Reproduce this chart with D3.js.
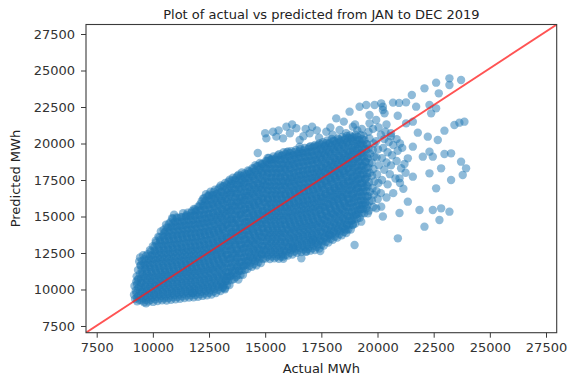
<!DOCTYPE html>
<html><head><meta charset="utf-8">
<script src="https://cdn.jsdelivr.net/npm/d3@7"></script>
<style>body{margin:0;background:#fff;} svg{display:block;} text{font-family:"DejaVu Sans",sans-serif;}</style>
</head><body><svg id="chart" width="577" height="379"></svg>
<script>
const titleText = "Plot of actual vs predicted from JAN to DEC 2019";
const xLabelText = "Actual MWh";
const yLabelText = "Predicted MWh";
const xTicks = [7500, 10000, 12500, 15000, 17500, 20000, 22500, 25000, 27500];
const yTicks = [7500, 10000, 12500, 15000, 17500, 20000, 22500, 25000, 27500];
const xDomain = [7024, 27976];
const yDomain = [7041, 28151];

// [actual MWh, predicted MWh] pairs
const denseCore = [
[9210,9350],[9160,9640],[9240,9930],[9180,10240],[9260,10540],
[9410,9280],[9350,9560],[9440,9870],[9380,10150],[9460,10460],[9360,10740],[9420,11060],[9340,11330],[9450,11650],[9390,11920],[9430,12200],
[9610,9120],[9550,9400],[9640,9710],[9580,10010],[9660,10280],[9560,10590],[9620,10880],[9540,11170],[9650,11480],[9590,11760],[9630,12070],[9570,12350],
[9810,9180],[9750,9470],[9840,9760],[9780,10060],[9860,10350],[9760,10650],[9820,10930],[9740,11240],[9850,11520],[9790,11830],[9830,12110],[9770,12420],[9870,12700],
[10010,9150],[9950,9440],[10040,9730],[9980,10030],[10060,10320],[9960,10610],[10020,10910],[9940,11200],[10050,11490],[9990,11790],[10030,12080],[9970,12370],[10070,12670],[10000,12960],
[10210,9210],[10150,9500],[10240,9800],[10180,10090],[10260,10390],[10160,10680],[10220,10980],[10140,11270],[10250,11570],[10190,11860],[10230,12160],[10170,12450],[10270,12750],[10200,13040],[10130,13340],[10245,13610],
[10410,9260],[10350,9560],[10440,9850],[10380,10150],[10460,10440],[10360,10740],[10420,11030],[10340,11330],[10450,11620],[10390,11920],[10430,12210],[10370,12510],[10470,12800],[10400,13100],[10330,13390],[10445,13690],[10355,13980],
[10610,9240],[10550,9530],[10640,9830],[10580,10120],[10660,10420],[10560,10710],[10620,11010],[10540,11300],[10650,11600],[10590,11890],[10630,12190],[10570,12480],[10670,12780],[10600,13070],[10530,13370],[10645,13660],[10555,13960],[10615,14250],[10585,14430],
[10810,9300],[10750,9590],[10840,9890],[10780,10180],[10860,10480],[10760,10770],[10820,11070],[10740,11360],[10850,11660],[10790,11950],[10830,12250],[10770,12540],[10870,12840],[10800,13130],[10730,13430],[10845,13720],[10755,14020],[10815,14310],[10785,14610],[10855,14880],
[11010,9330],[10950,9620],[11040,9920],[10980,10210],[11060,10510],[10960,10800],[11020,11100],[10940,11390],[11050,11690],[10990,11980],[11030,12280],[10970,12570],[11070,12870],[11000,13160],[10930,13460],[11045,13750],[10955,14050],[11015,14340],[10985,14640],[11055,14930],[10945,15120],
[11210,9360],[11150,9650],[11240,9950],[11180,10240],[11260,10540],[11160,10830],[11220,11130],[11140,11420],[11250,11720],[11190,12010],[11230,12310],[11170,12600],[11270,12900],[11200,13190],[11130,13490],[11245,13780],[11155,14080],[11215,14370],[11185,14670],[11255,14960],
[11410,9410],[11350,9700],[11440,10000],[11380,10290],[11460,10590],[11360,10880],[11420,11180],[11340,11470],[11450,11770],[11390,12060],[11430,12360],[11370,12650],[11470,12950],[11400,13240],[11330,13540],[11445,13830],[11355,14130],[11415,14420],[11385,14720],[11455,15010],[11345,15220],
[11610,9450],[11550,9740],[11640,10040],[11580,10330],[11660,10630],[11560,10920],[11620,11220],[11540,11510],[11650,11810],[11590,12100],[11630,12400],[11570,12690],[11670,12990],[11600,13280],[11530,13580],[11645,13870],[11555,14170],[11615,14460],[11585,14760],[11655,15050],[11545,15260],
[11810,9460],[11750,9760],[11840,10050],[11780,10350],[11860,10640],[11760,10940],[11820,11230],[11740,11530],[11850,11820],[11790,12120],[11830,12410],[11770,12710],[11870,13000],[11800,13300],[11730,13590],[11845,13890],[11755,14180],[11815,14480],[11785,14770],[11855,15070],[11745,15360],[11825,15520],
[12010,9500],[11950,9790],[12040,10090],[11980,10380],[12060,10680],[11960,10970],[12020,11270],[11940,11560],[12050,11860],[11990,12150],[12030,12450],[11970,12740],[12070,13040],[12000,13330],[11930,13630],[12045,13920],[11955,14220],[12015,14510],[11985,14810],[12055,15100],[11945,15400],[12025,15690],
[12210,9560],[12150,9850],[12240,10150],[12180,10440],[12260,10740],[12160,11030],[12220,11330],[12140,11620],[12250,11920],[12190,12210],[12230,12510],[12170,12800],[12270,13100],[12200,13390],[12130,13690],[12245,13980],[12155,14280],[12215,14570],[12185,14870],[12255,15160],[12145,15460],[12225,15750],[12175,16050],[12235,16220],
[12410,9600],[12350,9900],[12440,10190],[12380,10490],[12460,10780],[12360,11080],[12420,11370],[12340,11670],[12450,11960],[12390,12260],[12430,12550],[12370,12850],[12470,13140],[12400,13440],[12330,13730],[12445,14030],[12355,14320],[12415,14620],[12385,14910],[12455,15210],[12345,15500],[12425,15800],[12375,16090],[12435,16390],[12365,16520],
[12610,9660],[12550,9950],[12640,10250],[12580,10540],[12660,10840],[12560,11130],[12620,11430],[12540,11720],[12650,12020],[12590,12310],[12630,12610],[12570,12900],[12670,13200],[12600,13490],[12530,13790],[12645,14080],[12555,14380],[12615,14670],[12585,14970],[12655,15260],[12545,15560],[12625,15850],[12575,16150],[12635,16440],[12565,16700],
[12810,9760],[12750,10050],[12840,10350],[12780,10640],[12860,10940],[12760,11230],[12820,11530],[12740,11820],[12850,12120],[12790,12410],[12830,12710],[12770,13000],[12870,13300],[12800,13590],[12730,13890],[12845,14180],[12755,14480],[12815,14770],[12785,15070],[12855,15360],[12745,15660],[12825,15950],[12775,16250],[12835,16540],[12765,16840],
[13010,9900],[12950,10190],[13040,10490],[12980,10780],[13060,11080],[12960,11370],[13020,11670],[12940,11960],[13050,12260],[12990,12550],[13030,12850],[12970,13140],[13070,13440],[13000,13730],[12930,14030],[13045,14320],[12955,14620],[13015,14910],[12985,15210],[13055,15500],[12945,15800],[13025,16090],[12975,16390],[13035,16680],[12965,16980],[13020,17120],
[13210,10010],[13150,10300],[13240,10600],[13180,10890],[13260,11190],[13160,11480],[13220,11780],[13140,12070],[13250,12370],[13190,12660],[13230,12960],[13170,13250],[13270,13550],[13200,13840],[13130,14140],[13245,14430],[13155,14730],[13215,15020],[13185,15320],[13255,15610],[13145,15910],[13225,16200],[13175,16500],[13235,16790],[13165,17090],[13220,17300],
[13410,10300],[13350,10600],[13440,10890],[13380,11190],[13460,11480],[13360,11780],[13420,12070],[13340,12370],[13450,12660],[13390,12960],[13430,13250],[13370,13550],[13470,13840],[13400,14140],[13330,14430],[13445,14730],[13355,15020],[13415,15320],[13385,15610],[13455,15910],[13345,16200],[13425,16500],[13375,16790],[13435,17090],[13365,17380],[13420,17520],
[13610,10720],[13550,11010],[13640,11310],[13580,11600],[13660,11900],[13560,12190],[13620,12490],[13540,12780],[13650,13080],[13590,13370],[13630,13670],[13570,13960],[13670,14260],[13600,14550],[13530,14850],[13645,15140],[13555,15440],[13615,15730],[13585,16030],[13655,16320],[13545,16620],[13625,16910],[13575,17210],[13635,17500],[13565,17660],
[13810,10690],[13750,10980],[13840,11280],[13780,11570],[13860,11870],[13760,12160],[13820,12460],[13740,12750],[13850,13050],[13790,13340],[13830,13640],[13770,13930],[13870,14230],[13800,14520],[13730,14820],[13845,15110],[13755,15410],[13815,15700],[13785,16000],[13855,16290],[13745,16590],[13825,16880],[13775,17180],[13835,17470],[13765,17770],[13820,17860],
[14010,11010],[13950,11300],[14040,11600],[13980,11890],[14060,12190],[13960,12480],[14020,12780],[13940,13070],[14050,13370],[13990,13660],[14030,13960],[13970,14250],[14070,14550],[14000,14840],[13930,15140],[14045,15430],[13955,15730],[14015,16020],[13985,16320],[14055,16610],[13945,16910],[14025,17200],[13975,17500],[14035,17790],[13965,18010],
[14210,11400],[14150,11700],[14240,11990],[14180,12290],[14260,12580],[14160,12880],[14220,13170],[14140,13470],[14250,13760],[14190,14060],[14230,14350],[14170,14650],[14270,14940],[14200,15240],[14130,15530],[14245,15830],[14155,16120],[14215,16420],[14185,16710],[14255,17010],[14145,17300],[14225,17600],[14175,17890],[14235,18160],
[14410,11560],[14350,11850],[14440,12150],[14380,12440],[14460,12740],[14360,13030],[14420,13330],[14340,13620],[14450,13920],[14390,14210],[14430,14510],[14370,14800],[14470,15100],[14400,15390],[14330,15690],[14445,15980],[14355,16280],[14415,16570],[14385,16870],[14455,17160],[14345,17460],[14425,17750],[14375,18050],[14435,18310],
[14610,11650],[14550,11950],[14640,12240],[14580,12540],[14660,12830],[14560,13130],[14620,13420],[14540,13720],[14650,14010],[14590,14310],[14630,14600],[14570,14900],[14670,15190],[14600,15490],[14530,15780],[14645,16080],[14555,16370],[14615,16670],[14585,16960],[14655,17260],[14545,17550],[14625,17850],[14575,18140],[14635,18440],[14565,18520],
[14810,11810],[14750,12100],[14840,12400],[14780,12690],[14860,12990],[14760,13280],[14820,13580],[14740,13870],[14850,14170],[14790,14460],[14830,14760],[14770,15050],[14870,15350],[14800,15640],[14730,15940],[14845,16230],[14755,16530],[14815,16820],[14785,17120],[14855,17410],[14745,17710],[14825,18000],[14775,18300],[14835,18590],[14765,18660],
[15010,12120],[14950,12410],[15040,12710],[14980,13000],[15060,13300],[14960,13590],[15020,13890],[14940,14180],[15050,14480],[14990,14770],[15030,15070],[14970,15360],[15070,15660],[15000,15950],[14930,16250],[15045,16540],[14955,16840],[15015,17130],[14985,17430],[15055,17720],[14945,18020],[15025,18310],[14975,18610],[15035,18800],
[15210,12090],[15150,12380],[15240,12680],[15180,12970],[15260,13270],[15160,13560],[15220,13860],[15140,14150],[15250,14450],[15190,14740],[15230,15040],[15170,15330],[15270,15630],[15200,15920],[15130,16220],[15245,16510],[15155,16810],[15215,17100],[15185,17400],[15255,17690],[15145,17990],[15225,18280],[15175,18580],[15235,18870],[15165,19010],
[15410,12130],[15350,12420],[15440,12720],[15380,13010],[15460,13310],[15360,13600],[15420,13900],[15340,14190],[15450,14490],[15390,14780],[15430,15080],[15370,15370],[15470,15670],[15400,15960],[15330,16260],[15445,16550],[15355,16850],[15415,17140],[15385,17440],[15455,17730],[15345,18030],[15425,18320],[15375,18620],[15435,18910],[15365,19110],
[15610,12100],[15550,12400],[15640,12690],[15580,12990],[15660,13280],[15560,13580],[15620,13870],[15540,14170],[15650,14460],[15590,14760],[15630,15050],[15570,15350],[15670,15640],[15600,15940],[15530,16230],[15645,16530],[15555,16820],[15615,17120],[15585,17410],[15655,17710],[15545,18000],[15625,18300],[15575,18590],[15635,18890],[15565,19180],[15620,19260],
[15810,12110],[15750,12410],[15840,12700],[15780,13000],[15860,13290],[15760,13590],[15820,13880],[15740,14180],[15850,14470],[15790,14770],[15830,15060],[15770,15360],[15870,15650],[15800,15950],[15730,16240],[15845,16540],[15755,16830],[15815,17130],[15785,17420],[15855,17720],[15745,18010],[15825,18310],[15775,18600],[15835,18900],[15765,19190],[15820,19400],
[16010,12320],[15950,12610],[16040,12910],[15980,13200],[16060,13500],[15960,13790],[16020,14090],[15940,14380],[16050,14680],[15990,14970],[16030,15270],[15970,15560],[16070,15860],[16000,16150],[15930,16450],[16045,16740],[15955,17040],[16015,17330],[15985,17630],[16055,17920],[15945,18220],[16025,18510],[15975,18810],[16035,19100],[15965,19400],[16020,19460],
[16210,12400],[16150,12700],[16240,12990],[16180,13290],[16260,13580],[16160,13880],[16220,14170],[16140,14470],[16250,14760],[16190,15060],[16230,15350],[16170,15650],[16270,15940],[16200,16240],[16130,16530],[16245,16830],[16155,17120],[16215,17420],[16185,17710],[16255,18010],[16145,18300],[16225,18600],[16175,18890],[16235,19190],[16165,19480],
[16410,12510],[16350,12800],[16440,13100],[16380,13390],[16460,13690],[16360,13980],[16420,14280],[16340,14570],[16450,14870],[16390,15160],[16430,15460],[16370,15750],[16470,16050],[16400,16340],[16330,16640],[16445,16930],[16355,17230],[16415,17520],[16385,17820],[16455,18110],[16345,18410],[16425,18700],[16375,19000],[16435,19290],[16365,19560],
[16610,12560],[16550,12850],[16640,13150],[16580,13440],[16660,13740],[16560,14030],[16620,14330],[16540,14620],[16650,14920],[16590,15210],[16630,15510],[16570,15800],[16670,16100],[16600,16390],[16530,16690],[16645,16980],[16555,17280],[16615,17570],[16585,17870],[16655,18160],[16545,18460],[16625,18750],[16575,19050],[16635,19340],[16565,19610],
[16810,12600],[16750,12900],[16840,13190],[16780,13490],[16860,13780],[16760,14080],[16820,14370],[16740,14670],[16850,14960],[16790,15260],[16830,15550],[16770,15850],[16870,16140],[16800,16440],[16730,16730],[16845,17030],[16755,17320],[16815,17620],[16785,17910],[16855,18210],[16745,18500],[16825,18800],[16775,19090],[16835,19390],[16765,19690],
[17010,12660],[16950,12950],[17040,13250],[16980,13540],[17060,13840],[16960,14130],[17020,14430],[16940,14720],[17050,15020],[16990,15310],[17030,15610],[16970,15900],[17070,16200],[17000,16490],[16930,16790],[17045,17080],[16955,17380],[17015,17670],[16985,17970],[17055,18260],[16945,18560],[17025,18850],[16975,19150],[17035,19440],[16965,19740],[17020,19810],
[17210,12710],[17150,13000],[17240,13300],[17180,13590],[17260,13890],[17160,14180],[17220,14480],[17140,14770],[17250,15070],[17190,15360],[17230,15660],[17170,15950],[17270,16250],[17200,16540],[17130,16840],[17245,17130],[17155,17430],[17215,17720],[17185,18020],[17255,18310],[17145,18610],[17225,18900],[17175,19200],[17235,19490],[17165,19790],[17220,19900],
[17410,12810],[17350,13100],[17440,13400],[17380,13690],[17460,13990],[17360,14280],[17420,14580],[17340,14870],[17450,15170],[17390,15460],[17430,15760],[17370,16050],[17470,16350],[17400,16640],[17330,16940],[17445,17230],[17355,17530],[17415,17820],[17385,18120],[17455,18410],[17345,18710],[17425,19000],[17375,19300],[17435,19590],[17365,19890],[17420,20010],
[17610,13010],[17550,13300],[17640,13600],[17580,13890],[17660,14190],[17560,14480],[17620,14780],[17540,15070],[17650,15370],[17590,15660],[17630,15960],[17570,16250],[17670,16550],[17600,16840],[17530,17140],[17645,17430],[17555,17730],[17615,18020],[17585,18320],[17655,18610],[17545,18910],[17625,19200],[17575,19500],[17635,19790],[17565,20090],
[17810,13210],[17750,13500],[17840,13800],[17780,14090],[17860,14390],[17760,14680],[17820,14980],[17740,15270],[17850,15570],[17790,15860],[17830,16160],[17770,16450],[17870,16750],[17800,17040],[17730,17340],[17845,17630],[17755,17930],[17815,18220],[17785,18520],[17855,18810],[17745,19110],[17825,19400],[17775,19700],[17835,19990],[17765,20210],
[18010,13400],[17950,13700],[18040,13990],[17980,14290],[18060,14580],[17960,14880],[18020,15170],[17940,15470],[18050,15760],[17990,16060],[18030,16350],[17970,16650],[18070,16940],[18000,17240],[17930,17530],[18045,17830],[17955,18120],[18015,18420],[17985,18710],[18055,19010],[17945,19300],[18025,19600],[17975,19890],[18035,20190],[17965,20310],
[18210,13560],[18150,13850],[18240,14150],[18180,14440],[18260,14740],[18160,15030],[18220,15330],[18140,15620],[18250,15920],[18190,16210],[18230,16510],[18170,16800],[18270,17100],[18200,17390],[18130,17690],[18245,17980],[18155,18280],[18215,18570],[18185,18870],[18255,19160],[18145,19460],[18225,19750],[18175,20050],[18235,20340],
[18410,13710],[18350,14000],[18440,14300],[18380,14590],[18460,14890],[18360,15180],[18420,15480],[18340,15770],[18450,16070],[18390,16360],[18430,16660],[18370,16950],[18470,17250],[18400,17540],[18330,17840],[18445,18130],[18355,18430],[18415,18720],[18385,19020],[18455,19310],[18345,19610],[18425,19900],[18375,20200],[18435,20450],
[18610,13860],[18550,14150],[18640,14450],[18580,14740],[18660,15040],[18560,15330],[18620,15630],[18540,15920],[18650,16220],[18590,16510],[18630,16810],[18570,17100],[18670,17400],[18600,17690],[18530,17990],[18645,18280],[18555,18580],[18615,18870],[18585,19170],[18655,19460],[18545,19760],[18625,20050],[18575,20350],[18635,20510],
[18810,14110],[18750,14400],[18840,14700],[18780,14990],[18860,15290],[18760,15580],[18820,15880],[18740,16170],[18850,16470],[18790,16760],[18830,17060],[18770,17350],[18870,17650],[18800,17940],[18730,18240],[18845,18530],[18755,18830],[18815,19120],[18785,19420],[18855,19710],[18745,20010],[18825,20300],[18775,20560],
[19010,14520],[18950,14810],[19040,15110],[18980,15400],[19060,15700],[18960,15990],[19020,16290],[18940,16580],[19050,16880],[18990,17170],[19030,17470],[18970,17760],[19070,18060],[19000,18350],[18930,18650],[19045,18940],[18955,19240],[19015,19530],[18985,19830],[19055,20120],[18945,20420],[19025,20610],
[19210,14910],[19150,15200],[19240,15500],[19180,15790],[19260,16090],[19160,16380],[19220,16680],[19140,16970],[19250,17270],[19190,17560],[19230,17860],[19170,18150],[19270,18450],[19200,18740],[19130,19040],[19245,19330],[19155,19630],[19215,19920],[19185,20220],[19255,20580],
[19410,15220],[19350,15510],[19440,15810],[19380,16100],[19460,16400],[19360,16690],[19420,16990],[19340,17280],[19450,17580],[19390,17870],[19430,18170],[19370,18460],[19470,18760],[19400,19050],[19330,19350],[19445,19640],[19355,19940],[19415,20230],[19385,20510],
[19610,15400],[19550,15750],[19640,16050],[19580,16400],[19660,16700],[19560,17050],[19620,17350],[19540,17700],[19650,18000],[19590,18350],[19630,18650],[19570,19000],[19670,19300],[19600,19650],[19530,19950],[19645,20350],
[19810,15650],[19750,16100],[19840,16500],[19780,16950],[19860,17400],[19760,17800],[19820,18250],[19740,18700],[19850,19100],[19790,19550],[19830,20000],
[20010,16200],[19950,16750],[20040,17300],[19980,17900],[20060,18500],[19960,19050],[20020,19600],[19940,20150]
];

const denseCoreInner = [
[9300,9450],[9270,9750],[9330,10050],[9290,10350],[9320,10650],[9280,10900],
[9510,9250],[9470,9550],[9530,9850],[9490,10150],[9520,10450],[9480,10750],[9540,11050],[9500,11350],[9460,11650],[9525,11950],
[9700,9300],[9660,9600],[9730,9900],[9690,10200],[9720,10500],[9680,10800],[9740,11100],[9700,11400],[9670,11700],[9725,12000],[9690,12300],
[9900,9300],[9860,9600],[9930,9900],[9890,10200],[9920,10500],[9880,10800],[9940,11100],[9900,11400],[9870,11700],[9925,12000],[9890,12300],[9910,12600],
[10100,9330],[10060,9630],[10130,9930],[10090,10230],[10120,10530],[10080,10830],[10140,11130],[10100,11430],[10070,11730],[10125,12030],[10090,12330],[10110,12630],[10075,12930],[10130,13200],
[10300,9380],[10260,9680],[10330,9980],[10290,10280],[10320,10580],[10280,10880],[10340,11180],[10300,11480],[10270,11780],[10325,12080],[10290,12380],[10310,12680],[10275,12980],[10330,13280],[10295,13580],
[10500,9390],[10460,9690],[10530,9990],[10490,10290],[10520,10590],[10480,10890],[10540,11190],[10500,11490],[10470,11790],[10525,12090],[10490,12390],[10510,12690],[10475,12990],[10530,13290],[10495,13590],[10515,13890],[10480,14100],
[10700,9420],[10660,9720],[10730,10020],[10690,10320],[10720,10620],[10680,10920],[10740,11220],[10700,11520],[10670,11820],[10725,12120],[10690,12420],[10710,12720],[10675,13020],[10730,13320],[10695,13620],[10715,13920],[10680,14220],[10720,14500],
[10900,9460],[10860,9760],[10930,10060],[10890,10360],[10920,10660],[10880,10960],[10940,11260],[10900,11560],[10870,11860],[10925,12160],[10890,12460],[10910,12760],[10875,13060],[10930,13360],[10895,13660],[10915,13960],[10880,14260],[10920,14560],[10890,14850],
[11100,9490],[11060,9790],[11130,10090],[11090,10390],[11120,10690],[11080,10990],[11140,11290],[11100,11590],[11070,11890],[11125,12190],[11090,12490],[11110,12790],[11075,13090],[11130,13390],[11095,13690],[11115,13990],[11080,14290],[11120,14590],[11090,14880],
[11300,9530],[11260,9830],[11330,10130],[11290,10430],[11320,10730],[11280,11030],[11340,11330],[11300,11630],[11270,11930],[11325,12230],[11290,12530],[11310,12830],[11275,13130],[11330,13430],[11295,13730],[11315,14030],[11280,14330],[11320,14630],[11290,14930],
[11500,9580],[11460,9880],[11530,10180],[11490,10480],[11520,10780],[11480,11080],[11540,11380],[11500,11680],[11470,11980],[11525,12280],[11490,12580],[11510,12880],[11475,13180],[11530,13480],[11495,13780],[11515,14080],[11480,14380],[11520,14680],[11490,14980],[11510,15100],
[11700,9600],[11660,9900],[11730,10200],[11690,10500],[11720,10800],[11680,11100],[11740,11400],[11700,11700],[11670,12000],[11725,12300],[11690,12600],[11710,12900],[11675,13200],[11730,13500],[11695,13800],[11715,14100],[11680,14400],[11720,14700],[11690,15000],[11710,15250],
[11900,9630],[11860,9930],[11930,10230],[11890,10530],[11920,10830],[11880,11130],[11940,11430],[11900,11730],[11870,12030],[11925,12330],[11890,12630],[11910,12930],[11875,13230],[11930,13530],[11895,13830],[11915,14130],[11880,14430],[11920,14730],[11890,15030],[11910,15330],[11880,15480],
[12100,9680],[12060,9980],[12130,10280],[12090,10580],[12120,10880],[12080,11180],[12140,11480],[12100,11780],[12070,12080],[12125,12380],[12090,12680],[12110,12980],[12075,13280],[12130,13580],[12095,13880],[12115,14180],[12080,14480],[12120,14780],[12090,15080],[12110,15380],[12080,15680],[12120,15850],
[12300,9730],[12260,10030],[12330,10330],[12290,10630],[12320,10930],[12280,11230],[12340,11530],[12300,11830],[12270,12130],[12325,12430],[12290,12730],[12310,13030],[12275,13330],[12330,13630],[12295,13930],[12315,14230],[12280,14530],[12320,14830],[12290,15130],[12310,15430],[12280,15730],[12320,16030],[12290,16250],
[12500,9780],[12460,10080],[12530,10380],[12490,10680],[12520,10980],[12480,11280],[12540,11580],[12500,11880],[12470,12180],[12525,12480],[12490,12780],[12510,13080],[12475,13380],[12530,13680],[12495,13980],[12515,14280],[12480,14580],[12520,14880],[12490,15180],[12510,15480],[12480,15780],[12520,16080],[12490,16380],[12510,16500],
[12700,9860],[12660,10160],[12730,10460],[12690,10760],[12720,11060],[12680,11360],[12740,11660],[12700,11960],[12670,12260],[12725,12560],[12690,12860],[12710,13160],[12675,13460],[12730,13760],[12695,14060],[12715,14360],[12680,14660],[12720,14960],[12690,15260],[12710,15560],[12680,15860],[12720,16160],[12690,16460],[12710,16680],
[12900,9980],[12860,10280],[12930,10580],[12890,10880],[12920,11180],[12880,11480],[12940,11780],[12900,12080],[12870,12380],[12925,12680],[12890,12980],[12910,13280],[12875,13580],[12930,13880],[12895,14180],[12915,14480],[12880,14780],[12920,15080],[12890,15380],[12910,15680],[12880,15980],[12920,16280],[12890,16580],[12910,16850],
[13100,10100],[13060,10400],[13130,10700],[13090,11000],[13120,11300],[13080,11600],[13140,11900],[13100,12200],[13070,12500],[13125,12800],[13090,13100],[13110,13400],[13075,13700],[13130,14000],[13095,14300],[13115,14600],[13080,14900],[13120,15200],[13090,15500],[13110,15800],[13080,16100],[13120,16400],[13090,16700],[13110,17050],
[13300,10300],[13260,10600],[13330,10900],[13290,11200],[13320,11500],[13280,11800],[13340,12100],[13300,12400],[13270,12700],[13325,13000],[13290,13300],[13310,13600],[13275,13900],[13330,14200],[13295,14500],[13315,14800],[13280,15100],[13320,15400],[13290,15700],[13310,16000],[13280,16300],[13320,16600],[13290,16900],[13310,17200],
[13500,10650],[13460,10950],[13530,11250],[13490,11550],[13520,11850],[13480,12150],[13540,12450],[13500,12750],[13470,13050],[13525,13350],[13490,13650],[13510,13950],[13475,14250],[13530,14550],[13495,14850],[13515,15150],[13480,15450],[13520,15750],[13490,16050],[13510,16350],[13480,16650],[13520,16950],[13490,17250],[13510,17450],
[13700,10850],[13660,11150],[13730,11450],[13690,11750],[13720,12050],[13680,12350],[13740,12650],[13700,12950],[13670,13250],[13725,13550],[13690,13850],[13710,14150],[13675,14450],[13730,14750],[13695,15050],[13715,15350],[13680,15650],[13720,15950],[13690,16250],[13710,16550],[13680,16850],[13720,17150],[13690,17450],[13710,17650],
[13900,11000],[13860,11300],[13930,11600],[13890,11900],[13920,12200],[13880,12500],[13940,12800],[13900,13100],[13870,13400],[13925,13700],[13890,14000],[13910,14300],[13875,14600],[13930,14900],[13895,15200],[13915,15500],[13880,15800],[13920,16100],[13890,16400],[13910,16700],[13880,17000],[13920,17300],[13890,17600],[13910,17800],
[14100,11350],[14060,11650],[14130,11950],[14090,12250],[14120,12550],[14080,12850],[14140,13150],[14100,13450],[14070,13750],[14125,14050],[14090,14350],[14110,14650],[14075,14950],[14130,15250],[14095,15550],[14115,15850],[14080,16150],[14120,16450],[14090,16750],[14110,17050],[14080,17350],[14120,17650],[14090,17950],
[14300,11630],[14260,11930],[14330,12230],[14290,12530],[14320,12830],[14280,13130],[14340,13430],[14300,13730],[14270,14030],[14325,14330],[14290,14630],[14310,14930],[14275,15230],[14330,15530],[14295,15830],[14315,16130],[14280,16430],[14320,16730],[14290,17030],[14310,17330],[14280,17630],[14320,17930],[14290,18100],
[14500,11750],[14460,12050],[14530,12350],[14490,12650],[14520,12950],[14480,13250],[14540,13550],[14500,13850],[14470,14150],[14525,14450],[14490,14750],[14510,15050],[14475,15350],[14530,15650],[14495,15950],[14515,16250],[14480,16550],[14520,16850],[14490,17150],[14510,17450],[14480,17750],[14520,18050],[14490,18280],
[14700,11880],[14660,12180],[14730,12480],[14690,12780],[14720,13080],[14680,13380],[14740,13680],[14700,13980],[14670,14280],[14725,14580],[14690,14880],[14710,15180],[14675,15480],[14730,15780],[14695,16080],[14715,16380],[14680,16680],[14720,16980],[14690,17280],[14710,17580],[14680,17880],[14720,18180],[14690,18450],
[14900,12110],[14860,12410],[14930,12710],[14890,13010],[14920,13310],[14880,13610],[14940,13910],[14900,14210],[14870,14510],[14925,14810],[14890,15110],[14910,15410],[14875,15710],[14930,16010],[14895,16310],[14915,16610],[14880,16910],[14920,17210],[14890,17510],[14910,17810],[14880,18110],[14920,18410],[14890,18620],
[15100,12250],[15060,12550],[15130,12850],[15090,13150],[15120,13450],[15080,13750],[15140,14050],[15100,14350],[15070,14650],[15125,14950],[15090,15250],[15110,15550],[15075,15850],[15130,16150],[15095,16450],[15115,16750],[15080,17050],[15120,17350],[15090,17650],[15110,17950],[15080,18250],[15120,18550],[15090,18780],
[15300,12260],[15260,12560],[15330,12860],[15290,13160],[15320,13460],[15280,13760],[15340,14060],[15300,14360],[15270,14660],[15325,14960],[15290,15260],[15310,15560],[15275,15860],[15330,16160],[15295,16460],[15315,16760],[15280,17060],[15320,17360],[15290,17660],[15310,17960],[15280,18260],[15320,18560],[15290,18860],[15310,18950],
[15500,12260],[15460,12560],[15530,12860],[15490,13160],[15520,13460],[15480,13760],[15540,14060],[15500,14360],[15470,14660],[15525,14960],[15490,15260],[15510,15560],[15475,15860],[15530,16160],[15495,16460],[15515,16760],[15480,17060],[15520,17360],[15490,17660],[15510,17960],[15480,18260],[15520,18560],[15490,18860],[15510,19050],
[15700,12250],[15660,12550],[15730,12850],[15690,13150],[15720,13450],[15680,13750],[15740,14050],[15700,14350],[15670,14650],[15725,14950],[15690,15250],[15710,15550],[15675,15850],[15730,16150],[15695,16450],[15715,16750],[15680,17050],[15720,17350],[15690,17650],[15710,17950],[15680,18250],[15720,18550],[15690,18850],[15710,19150],
[15900,12360],[15860,12660],[15930,12960],[15890,13260],[15920,13560],[15880,13860],[15940,14160],[15900,14460],[15870,14760],[15925,15060],[15890,15360],[15910,15660],[15875,15960],[15930,16260],[15895,16560],[15915,16860],[15880,17160],[15920,17460],[15890,17760],[15910,18060],[15880,18360],[15920,18660],[15890,18960],[15910,19260],
[16100,12510],[16060,12810],[16130,13110],[16090,13410],[16120,13710],[16080,14010],[16140,14310],[16100,14610],[16070,14910],[16125,15210],[16090,15510],[16110,15810],[16075,16110],[16130,16410],[16095,16710],[16115,17010],[16080,17310],[16120,17610],[16090,17910],[16110,18210],[16080,18510],[16120,18810],[16090,19110],[16110,19330],
[16300,12600],[16260,12900],[16330,13200],[16290,13500],[16320,13800],[16280,14100],[16340,14400],[16300,14700],[16270,15000],[16325,15300],[16290,15600],[16310,15900],[16275,16200],[16330,16500],[16295,16800],[16315,17100],[16280,17400],[16320,17700],[16290,18000],[16310,18300],[16280,18600],[16320,18900],[16290,19200],[16310,19400],
[16500,12680],[16460,12980],[16530,13280],[16490,13580],[16520,13880],[16480,14180],[16540,14480],[16500,14780],[16470,15080],[16525,15380],[16490,15680],[16510,15980],[16475,16280],[16530,16580],[16495,16880],[16515,17180],[16480,17480],[16520,17780],[16490,18080],[16510,18380],[16480,18680],[16520,18980],[16490,19280],[16510,19450],
[16700,12730],[16660,13030],[16730,13330],[16690,13630],[16720,13930],[16680,14230],[16740,14530],[16700,14830],[16670,15130],[16725,15430],[16690,15730],[16710,16030],[16675,16330],[16730,16630],[16695,16930],[16715,17230],[16680,17530],[16720,17830],[16690,18130],[16710,18430],[16680,18730],[16720,19030],[16690,19330],[16710,19520],
[16900,12780],[16860,13080],[16930,13380],[16890,13680],[16920,13980],[16880,14280],[16940,14580],[16900,14880],[16870,15180],[16925,15480],[16890,15780],[16910,16080],[16875,16380],[16930,16680],[16895,16980],[16915,17280],[16880,17580],[16920,17880],[16890,18180],[16910,18480],[16880,18780],[16920,19080],[16890,19380],[16910,19620],
[17100,12830],[17060,13130],[17130,13430],[17090,13730],[17120,14030],[17080,14330],[17140,14630],[17100,14930],[17070,15230],[17125,15530],[17090,15830],[17110,16130],[17075,16430],[17130,16730],[17095,17030],[17115,17330],[17080,17630],[17120,17930],[17090,18230],[17110,18530],[17080,18830],[17120,19130],[17090,19430],[17110,19720],
[17300,12910],[17260,13210],[17330,13510],[17290,13810],[17320,14110],[17280,14410],[17340,14710],[17300,15010],[17270,15310],[17325,15610],[17290,15910],[17310,16210],[17275,16510],[17330,16810],[17295,17110],[17315,17410],[17280,17710],[17320,18010],[17290,18310],[17310,18610],[17280,18910],[17320,19210],[17290,19510],[17310,19810],
[17500,13060],[17460,13360],[17530,13660],[17490,13960],[17520,14260],[17480,14560],[17540,14860],[17500,15160],[17470,15460],[17525,15760],[17490,16060],[17510,16360],[17475,16660],[17530,16960],[17495,17260],[17515,17560],[17480,17860],[17520,18160],[17490,18460],[17510,18760],[17480,19060],[17520,19360],[17490,19660],[17510,19920],
[17700,13260],[17660,13560],[17730,13860],[17690,14160],[17720,14460],[17680,14760],[17740,15060],[17700,15360],[17670,15660],[17725,15960],[17690,16260],[17710,16560],[17675,16860],[17730,17160],[17695,17460],[17715,17760],[17680,18060],[17720,18360],[17690,18660],[17710,18960],[17680,19260],[17720,19560],[17690,19860],[17710,20020],
[17900,13450],[17860,13750],[17930,14050],[17890,14350],[17920,14650],[17880,14950],[17940,15250],[17900,15550],[17870,15850],[17925,16150],[17890,16450],[17910,16750],[17875,17050],[17930,17350],[17895,17650],[17915,17950],[17880,18250],[17920,18550],[17890,18850],[17910,19150],[17880,19450],[17920,19750],[17890,20050],
[18100,13630],[18060,13930],[18130,14230],[18090,14530],[18120,14830],[18080,15130],[18140,15430],[18100,15730],[18070,16030],[18125,16330],[18090,16630],[18110,16930],[18075,17230],[18130,17530],[18095,17830],[18115,18130],[18080,18430],[18120,18730],[18090,19030],[18110,19330],[18080,19630],[18120,19930],[18090,20180],
[18300,13780],[18260,14080],[18330,14380],[18290,14680],[18320,14980],[18280,15280],[18340,15580],[18300,15880],[18270,16180],[18325,16480],[18290,16780],[18310,17080],[18275,17380],[18330,17680],[18295,17980],[18315,18280],[18280,18580],[18320,18880],[18290,19180],[18310,19480],[18280,19780],[18320,20080],[18290,20280],
[18500,13930],[18460,14230],[18530,14530],[18490,14830],[18520,15130],[18480,15430],[18540,15730],[18500,16030],[18470,16330],[18525,16630],[18490,16930],[18510,17230],[18475,17530],[18530,17830],[18495,18130],[18515,18430],[18480,18730],[18520,19030],[18490,19330],[18510,19630],[18480,19930],[18520,20230],
[18700,14130],[18660,14430],[18730,14730],[18690,15030],[18720,15330],[18680,15630],[18740,15930],[18700,16230],[18670,16530],[18725,16830],[18690,17130],[18710,17430],[18675,17730],[18730,18030],[18695,18330],[18715,18630],[18680,18930],[18720,19230],[18690,19530],[18710,19830],[18680,20130],[18720,20380],
[18900,14460],[18860,14760],[18930,15060],[18890,15360],[18920,15660],[18880,15960],[18940,16260],[18900,16560],[18870,16860],[18925,17160],[18890,17460],[18910,17760],[18875,18060],[18930,18360],[18895,18660],[18915,18960],[18880,19260],[18920,19560],[18890,19860],[18910,20160],[18880,20430],
[19100,14860],[19060,15160],[19130,15460],[19090,15760],[19120,16060],[19080,16360],[19140,16660],[19100,16960],[19070,17260],[19125,17560],[19090,17860],[19110,18160],[19075,18460],[19130,18760],[19095,19060],[19115,19360],[19080,19660],[19120,19960],[19090,20260],[19110,20450],
[19300,15210],[19260,15510],[19330,15810],[19290,16110],[19320,16410],[19280,16710],[19340,17010],[19300,17310],[19270,17610],[19325,17910],[19290,18210],[19310,18510],[19275,18810],[19330,19110],[19295,19410],[19315,19710],[19280,20010],[19320,20300],
[19500,15550],[19460,15950],[19530,16350],[19490,16750],[19520,17150],[19480,17550],[19540,17950],[19500,18350],[19470,18750],[19525,19150],[19490,19550],[19510,19950]
];

const outerPoints = [
[14670,19350],[15110,19010],[15053,20350],[15497,20470],[15350,20810],[15795,20354],[15943,21153],[16386,21040],[16535,20240],[16534,19783],
[16980,20696],[17090,21150],[17720,20810],[18163,21723],[18312,20924],[18757,22180],[18904,21153],[19201,22522],[19497,22637],[19645,21952],
[19645,21381],[19868,22637],[19941,21609],[20238,22522],[20312,22066],[20690,22800],[20960,22780],[21270,22820],[21274,21381],[16100,20700],
[16700,20500],[17400,20400],[17900,21100],[18600,20700],[19000,21300],[19300,21000],[19800,21000],[20400,21300],[20600,20500],[20900,21900],
[15000,20700],[15600,20900],[16200,21300],[16800,21000],[17300,20900],[18000,20600],[18500,21500],[19100,20900],[19600,20800],[20050,21100],
[22609,24167],[23201,24463],[23719,24349],[23201,24007],[22090,23778],[22727,23436],[21528,23322],[20165,22751],[21720,22523],[22313,22637],
[22609,22409],[22387,22066],[20239,22295],[21572,21496],[22979,20879],[23423,21267],[23645,21427],[23868,21496],[21794,20742],[22238,20468],
[22683,20240],[21572,19783],[21350,18984],[22016,19098],[22313,19441],[22461,19098],[22979,19281],[23275,19327],[23719,18756],[23942,18299],
[22831,18299],[22313,17957],[23793,17843],[21572,17729],[20979,17614],[23275,17500],[22609,16929],[21350,16016],[20979,15240],[21868,15446],
[22461,15446],[22831,15560],[23201,15331],[22757,14761],[22090,14304],[20906,13505],[20165,15674],[20239,15000],
[20150,20600],[20300,20300],[20500,20100],[20700,19900],[20250,19700],[20450,19400],[20650,19200],[20900,19500],[21100,19700],[20200,19000],
[20400,18700],[20600,18500],[20850,18800],[21050,18300],[20300,18200],[20550,17900],[20800,17600],[21000,17300],[20200,17500],[20450,17200],
[21250,18000],[20150,16600],[20400,16300],[20700,16600],[21200,18600],[21150,16900],[20350,20800],[20600,20700],[20850,20300],[21000,20000],
[15795,12249],[16609,12135],[16832,12591],[17453,12637],[17868,13733],[17128,13390],[18979,13048],[18905,14418],[19275,14646],[19571,15217],
[19941,15559],[16239,12820],[18609,14075],[13202,10080],[11780,9760],[13113,10170],[13290,10790],[9300,9200],[9700,9050]
];

const samples = denseCore.concat(denseCoreInner, outerPoints);
const actual = samples.map(d => d[0]);
const predicted = samples.map(d => d[1]);

const W = 577, H = 379;
const margin = {left: 86, top: 24.5, right: 20.3, bottom: 46.3};
const x = d3.scaleLinear().domain(xDomain).range([margin.left, W - margin.right]);
const y = d3.scaleLinear().domain(yDomain).range([H - margin.bottom, margin.top]);

const svg = d3.select("#chart");
svg.append("defs").append("clipPath").attr("id", "plotClip")
  .append("rect").attr("x", x.range()[0]).attr("y", y.range()[1])
  .attr("width", x.range()[1] - x.range()[0]).attr("height", y.range()[0] - y.range()[1]);

const plot = svg.append("g").attr("clip-path", "url(#plotClip)");
plot.append("g").selectAll("circle").data(actual).join("circle")
  .attr("cx", (d) => x(d))
  .attr("cy", (d, i) => y(predicted[i]))
  .attr("r", 4.2)
  .attr("fill", "#1f77b4")
  .attr("fill-opacity", 0.5);

plot.append("line")
  .attr("x1", x(xDomain[0])).attr("y1", y(yDomain[0]))
  .attr("x2", x(xDomain[1])).attr("y2", y(yDomain[1]))
  .attr("stroke", "#ff1a1a").attr("stroke-opacity", 0.75).attr("stroke-width", 1.8);

const axisColor = "#3a3a3a";
const xAxis = svg.append("g").attr("transform", `translate(0,${H - margin.bottom})`)
  .call(d3.axisBottom(x).tickValues(xTicks).tickFormat(d3.format("d")).tickSize(5).tickPadding(4));
const yAxis = svg.append("g").attr("transform", `translate(${margin.left},0)`)
  .call(d3.axisLeft(y).tickValues(yTicks).tickFormat(d3.format("d")).tickSize(5).tickPadding(6));
[xAxis, yAxis].forEach(a => {
  a.select(".domain").remove();
  a.selectAll(".tick line").attr("stroke", axisColor).attr("stroke-width", 1);
  a.selectAll(".tick text").attr("fill", "#333").style("font-size", "13px").style("font-family", "DejaVu Sans");
});
xAxis.selectAll(".tick text").attr("dy", "0.8em");

svg.append("rect")
  .attr("x", x.range()[0]).attr("y", y.range()[1])
  .attr("width", x.range()[1] - x.range()[0]).attr("height", y.range()[0] - y.range()[1])
  .attr("fill", "none").attr("stroke", axisColor).attr("stroke-width", 1.1);

svg.append("text").attr("x", (x.range()[0] + x.range()[1]) / 2).attr("y", 18.5)
  .attr("text-anchor", "middle").attr("fill", "#222").style("font-size", "13px").text(titleText);
svg.append("text").attr("x", (x.range()[0] + x.range()[1]) / 2).attr("y", 373)
  .attr("text-anchor", "middle").attr("fill", "#222").style("font-size", "13px").text(xLabelText);
svg.append("text").attr("transform", `translate(20,${(y.range()[0] + y.range()[1]) / 2}) rotate(-90)`)
  .attr("text-anchor", "middle").attr("fill", "#222").style("font-size", "13px").text(yLabelText);
</script></body></html>
